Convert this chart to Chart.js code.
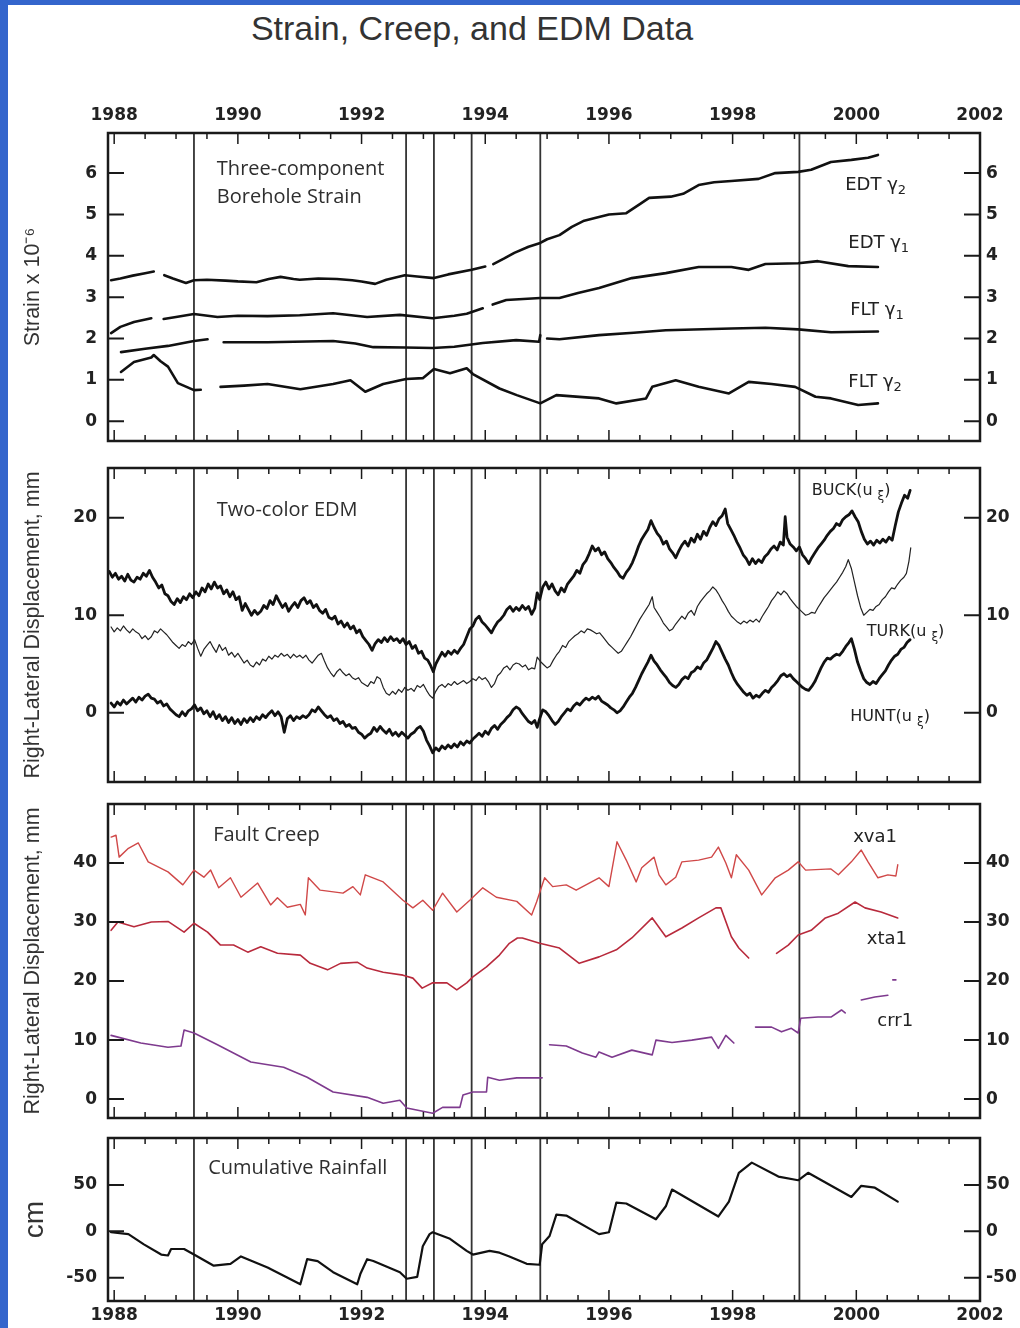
<!DOCTYPE html>
<html>
<head>
<meta charset="utf-8">
<title>Strain, Creep, and EDM Data</title>
<script src="https://cdn.jsdelivr.net/npm/chart.js@4.4.1/dist/chart.umd.min.js"></script>
<style>
  html, body { margin: 0; padding: 0; }
  body { width: 1020px; height: 1328px; background: #3465cc; position: relative; overflow: hidden; }
  #sheet { position: absolute; left: 8px; top: 5px; right: 0; bottom: 0; background: #fff; }
  h1 { position: absolute; left: 0; width: 944px; top: 11px; margin: 0; text-align: center;
       font: normal 34px/34px "Liberation Sans", Arial, sans-serif; color: #333; }
  canvas { position: absolute; left: 0; }
</style>
</head>
<body>
<div id="sheet"></div>
<h1>Strain, Creep, and EDM Data</h1>
<canvas id="strain" width="1020" height="380" style="top:80px"></canvas>
<canvas id="edm" width="1020" height="340" style="top:460px"></canvas>
<canvas id="creep" width="1020" height="330" style="top:800px"></canvas>
<canvas id="rain" width="1020" height="198" style="top:1130px"></canvas>
<script>
/* global Chart */

// axis ticks
const yearTicks = [1988, 1990, 1992, 1994, 1996, 1998, 2000, 2002];
const strainTicks = [0, 1, 2, 3, 4, 5, 6];
const edmTicks = [0, 10, 20];
const creepTicks = [0, 10, 20, 30, 40];
const rainTicks = [-50, 0, 50];

// earthquake marker lines (decimal year)
const quakeYears = [1989.29, 1992.72, 1993.17, 1993.78, 1994.89, 1999.08];

// borehole strain, x 10^-6  [year, value], null = gap
const edtGamma2 = [[1987.95,3.41],[1988.1,3.45],[1988.3,3.52],[1988.5,3.58],[1988.64,3.62],[1988.72,null],[1988.81,3.53],[1988.95,3.45],[1989.16,3.34],[1989.29,3.41],[1989.5,3.42],[1989.8,3.40],[1990.0,3.38],[1990.3,3.36],[1990.5,3.44],[1990.69,3.49],[1990.9,3.44],[1991.0,3.42],[1991.3,3.45],[1991.6,3.44],[1991.85,3.41],[1992.0,3.38],[1992.22,3.32],[1992.4,3.42],[1992.7,3.53],[1992.9,3.50],[1993.17,3.46],[1993.4,3.55],[1993.78,3.66],[1994.0,3.74],[1994.06,null],[1994.13,3.80],[1994.3,3.93],[1994.47,4.07],[1994.7,4.22],[1994.89,4.31],[1995.0,4.40],[1995.2,4.50],[1995.4,4.70],[1995.6,4.85],[1995.79,4.92],[1996.0,5.0],[1996.28,5.03],[1996.5,5.25],[1996.65,5.40],[1997.0,5.43],[1997.2,5.50],[1997.45,5.71],[1997.7,5.78],[1997.98,5.81],[1998.42,5.86],[1998.69,6.0],[1999.06,6.03],[1999.27,6.08],[1999.59,6.27],[1999.92,6.32],[2000.19,6.37],[2000.35,6.44]];
const edtGamma1 = [[1987.95,2.13],[1988.1,2.28],[1988.32,2.40],[1988.6,2.49],[1988.68,null],[1988.8,2.47],[1989.0,2.52],[1989.29,2.59],[1989.67,2.52],[1990.0,2.55],[1990.48,2.54],[1991.0,2.56],[1991.54,2.61],[1992.09,2.52],[1992.62,2.57],[1993.15,2.49],[1993.5,2.55],[1993.7,2.60],[1993.96,2.73],[1994.04,null],[1994.12,2.82],[1994.34,2.93],[1994.89,2.98],[1995.2,2.98],[1995.5,3.10],[1995.84,3.22],[1996.37,3.46],[1996.92,3.58],[1997.45,3.73],[1997.98,3.73],[1998.26,3.66],[1998.53,3.80],[1999.06,3.82],[1999.38,3.87],[1999.87,3.75],[2000.35,3.73]];
const fltGamma1 = [[1988.11,1.67],[1988.5,1.75],[1988.87,1.82],[1989.29,1.94],[1989.51,1.98],[1989.6,null],[1989.77,1.91],[1990.48,1.91],[1991.54,1.94],[1991.9,1.88],[1992.19,1.79],[1992.7,1.78],[1993.15,1.77],[1993.5,1.80],[1993.96,1.89],[1994.5,1.96],[1994.87,1.92],[1994.89,2.08],[1994.93,null],[1995.0,2.0],[1995.2,1.98],[1995.84,2.08],[1996.4,2.14],[1996.92,2.20],[1997.98,2.24],[1998.53,2.26],[1999.06,2.22],[1999.59,2.15],[2000.35,2.17]];
const fltGamma2 = [[1988.11,1.19],[1988.32,1.43],[1988.6,1.54],[1988.64,1.60],[1988.75,1.45],[1988.87,1.32],[1989.03,0.92],[1989.29,0.75],[1989.4,0.76],[1989.5,null],[1989.72,0.83],[1990.1,0.86],[1990.48,0.90],[1991.01,0.77],[1991.54,0.90],[1991.82,0.99],[1992.06,0.71],[1992.35,0.90],[1992.72,1.02],[1992.99,1.04],[1993.17,1.26],[1993.43,1.16],[1993.70,1.28],[1993.8,1.14],[1994.23,0.79],[1994.51,0.63],[1994.89,0.43],[1995.15,0.63],[1995.84,0.55],[1996.12,0.43],[1996.6,0.55],[1996.7,0.83],[1997.08,0.99],[1997.45,0.83],[1997.94,0.67],[1998.26,0.95],[1998.63,0.90],[1999.01,0.83],[1999.34,0.59],[1999.59,0.55],[2000.03,0.39],[2000.35,0.43]];

// two-color EDM, mm
const buck = [[1987.92,14.5],[1987.97,13.9],[1988.02,14.3],[1988.07,13.7],[1988.12,14.0],[1988.17,13.5],[1988.22,14.2],[1988.27,13.6],[1988.32,13.4],[1988.37,13.9],[1988.42,13.7],[1988.47,14.3],[1988.52,14.0],[1988.57,14.6],[1988.62,13.9],[1988.67,13.4],[1988.72,12.8],[1988.77,13.1],[1988.82,12.2],[1988.87,12.0],[1988.92,11.4],[1988.97,11.1],[1989.02,11.7],[1989.07,11.3],[1989.12,11.9],[1989.17,11.6],[1989.22,12.2],[1989.27,11.8],[1989.32,12.4],[1989.37,12.0],[1989.42,12.8],[1989.47,12.4],[1989.52,13.2],[1989.57,12.7],[1989.62,13.4],[1989.67,12.8],[1989.72,13.0],[1989.77,12.2],[1989.82,12.6],[1989.87,11.9],[1989.92,12.4],[1989.97,11.6],[1990.02,11.9],[1990.07,10.5],[1990.12,11.2],[1990.17,10.6],[1990.22,10.0],[1990.27,10.5],[1990.32,10.1],[1990.37,10.4],[1990.42,11.0],[1990.47,10.7],[1990.52,11.5],[1990.57,11.1],[1990.62,12.0],[1990.67,11.4],[1990.72,10.8],[1990.77,11.2],[1990.82,10.4],[1990.87,10.9],[1990.92,11.3],[1990.97,10.8],[1991.02,11.5],[1991.07,11.8],[1991.12,11.2],[1991.17,11.5],[1991.22,10.8],[1991.27,11.1],[1991.32,10.5],[1991.37,10.2],[1991.42,10.6],[1991.47,9.8],[1991.52,9.6],[1991.57,9.9],[1991.62,9.1],[1991.67,9.4],[1991.72,8.8],[1991.77,9.2],[1991.82,8.6],[1991.87,8.9],[1991.92,8.2],[1991.97,8.5],[1992.02,7.8],[1992.07,7.4],[1992.12,7.0],[1992.17,6.4],[1992.22,7.1],[1992.27,7.5],[1992.32,7.2],[1992.37,7.7],[1992.42,7.3],[1992.47,7.8],[1992.52,7.4],[1992.57,7.6],[1992.62,7.2],[1992.67,7.6],[1992.72,7.0],[1992.77,7.3],[1992.82,6.6],[1992.87,6.9],[1992.92,6.1],[1992.97,6.3],[1993.02,5.6],[1993.07,5.4],[1993.12,4.8],[1993.16,4.2],[1993.2,5.0],[1993.25,5.6],[1993.3,6.2],[1993.35,5.8],[1993.4,6.3],[1993.45,6.0],[1993.5,6.4],[1993.55,6.1],[1993.6,6.6],[1993.65,7.0],[1993.7,7.8],[1993.75,8.6],[1993.8,8.9],[1993.85,9.6],[1993.9,9.9],[1993.95,9.3],[1994.0,9.0],[1994.05,8.6],[1994.1,8.2],[1994.15,8.8],[1994.2,9.3],[1994.25,9.6],[1994.3,10.0],[1994.35,10.6],[1994.4,10.9],[1994.45,10.4],[1994.5,10.8],[1994.55,10.5],[1994.6,11.0],[1994.65,10.6],[1994.7,10.9],[1994.75,10.1],[1994.8,10.7],[1994.84,12.3],[1994.88,11.6],[1994.93,12.9],[1994.98,13.4],[1995.03,12.7],[1995.08,13.2],[1995.13,12.5],[1995.18,12.1],[1995.23,12.8],[1995.28,12.4],[1995.33,13.2],[1995.38,13.6],[1995.43,14.0],[1995.48,14.6],[1995.53,14.3],[1995.58,15.2],[1995.63,15.6],[1995.68,16.3],[1995.73,17.1],[1995.78,16.6],[1995.83,16.9],[1995.88,16.2],[1995.93,16.5],[1995.98,15.8],[1996.03,15.4],[1996.08,14.9],[1996.13,14.5],[1996.18,14.0],[1996.23,13.8],[1996.28,14.4],[1996.33,14.8],[1996.38,15.4],[1996.43,16.2],[1996.48,17.1],[1996.53,17.8],[1996.58,18.3],[1996.63,18.8],[1996.68,19.7],[1996.73,19.0],[1996.78,18.4],[1996.83,18.0],[1996.88,17.3],[1996.93,17.6],[1996.98,16.8],[1997.03,16.4],[1997.08,15.9],[1997.13,16.6],[1997.18,17.2],[1997.23,17.6],[1997.28,17.1],[1997.33,17.9],[1997.38,17.5],[1997.43,18.3],[1997.48,17.8],[1997.53,18.6],[1997.58,18.2],[1997.63,19.0],[1997.68,19.6],[1997.73,19.2],[1997.78,19.9],[1997.83,20.2],[1997.88,20.9],[1997.92,19.4],[1997.97,18.8],[1998.02,18.2],[1998.07,17.5],[1998.12,16.9],[1998.17,16.2],[1998.22,15.8],[1998.27,15.2],[1998.32,15.8],[1998.37,15.3],[1998.42,15.7],[1998.47,15.4],[1998.52,16.0],[1998.57,16.3],[1998.62,16.8],[1998.67,17.1],[1998.72,16.7],[1998.77,17.5],[1998.82,17.2],[1998.85,20.1],[1998.88,18.0],[1998.93,17.3],[1998.98,17.0],[1999.03,16.6],[1999.08,17.0],[1999.13,16.2],[1999.18,15.8],[1999.23,15.3],[1999.28,15.9],[1999.33,16.4],[1999.38,16.9],[1999.43,17.3],[1999.48,17.7],[1999.53,18.2],[1999.58,18.6],[1999.63,18.9],[1999.68,19.4],[1999.73,19.2],[1999.78,19.8],[1999.83,20.1],[1999.88,20.3],[1999.93,20.7],[1999.98,20.1],[2000.03,19.6],[2000.08,18.6],[2000.13,17.8],[2000.18,17.3],[2000.23,17.6],[2000.28,17.2],[2000.33,17.7],[2000.38,17.4],[2000.43,17.8],[2000.48,17.5],[2000.53,18.0],[2000.58,17.7],[2000.63,19.2],[2000.68,20.6],[2000.73,21.5],[2000.78,22.3],[2000.83,22.0],[2000.87,22.8]];
const turk = [[1987.95,8.8],[1988.0,8.3],[1988.05,8.7],[1988.1,8.4],[1988.15,8.9],[1988.2,8.5],[1988.25,8.2],[1988.3,8.6],[1988.35,8.3],[1988.4,8.1],[1988.45,7.6],[1988.5,7.9],[1988.55,7.5],[1988.6,7.8],[1988.65,8.4],[1988.7,8.2],[1988.75,8.6],[1988.8,8.3],[1988.85,8.0],[1988.9,7.6],[1988.95,7.2],[1989.0,6.9],[1989.05,6.6],[1989.1,7.0],[1989.15,6.8],[1989.2,7.3],[1989.25,7.0],[1989.3,7.5],[1989.35,6.6],[1989.4,5.8],[1989.45,6.5],[1989.5,6.9],[1989.55,7.3],[1989.6,6.7],[1989.65,6.2],[1989.7,7.0],[1989.75,6.4],[1989.8,6.7],[1989.85,5.9],[1989.9,6.2],[1989.95,5.7],[1990.0,6.1],[1990.05,5.6],[1990.1,5.1],[1990.15,5.4],[1990.2,4.9],[1990.25,4.7],[1990.3,5.2],[1990.35,4.9],[1990.4,5.5],[1990.45,5.3],[1990.5,5.8],[1990.55,5.5],[1990.6,5.9],[1990.65,5.7],[1990.7,6.1],[1990.75,5.8],[1990.8,6.0],[1990.85,5.6],[1990.9,6.0],[1990.95,5.7],[1991.0,5.9],[1991.05,5.6],[1991.1,5.9],[1991.15,5.4],[1991.2,5.1],[1991.25,5.5],[1991.3,5.9],[1991.35,6.1],[1991.4,5.3],[1991.45,4.6],[1991.5,4.1],[1991.55,3.7],[1991.6,4.2],[1991.65,4.5],[1991.7,4.1],[1991.75,3.8],[1991.8,4.0],[1991.85,3.6],[1991.9,3.4],[1991.95,3.6],[1992.0,3.1],[1992.05,2.9],[1992.1,2.7],[1992.15,3.2],[1992.2,3.0],[1992.25,3.7],[1992.3,3.5],[1992.35,2.6],[1992.4,2.0],[1992.45,1.8],[1992.5,2.2],[1992.55,1.9],[1992.6,2.4],[1992.65,2.1],[1992.7,2.6],[1992.75,2.3],[1992.8,2.5],[1992.85,2.2],[1992.9,2.8],[1992.95,2.6],[1993.0,2.9],[1993.05,2.3],[1993.1,1.8],[1993.15,1.5],[1993.2,2.2],[1993.25,2.7],[1993.3,2.9],[1993.35,2.6],[1993.4,3.0],[1993.45,2.8],[1993.5,3.2],[1993.55,2.9],[1993.6,3.1],[1993.65,3.3],[1993.7,3.0],[1993.75,3.2],[1993.8,3.5],[1993.85,3.3],[1993.9,3.7],[1993.95,3.4],[1994.0,3.6],[1994.05,3.2],[1994.1,2.6],[1994.15,3.0],[1994.2,3.8],[1994.25,4.1],[1994.3,4.6],[1994.35,4.8],[1994.4,4.4],[1994.45,4.9],[1994.5,5.1],[1994.55,5.0],[1994.6,4.7],[1994.65,4.9],[1994.7,4.4],[1994.75,4.6],[1994.8,4.5],[1994.84,5.7],[1994.9,5.2],[1994.95,4.9],[1995.0,4.6],[1995.05,4.8],[1995.1,5.4],[1995.15,5.9],[1995.2,6.3],[1995.25,6.9],[1995.3,6.7],[1995.35,7.3],[1995.4,7.6],[1995.45,7.9],[1995.5,8.1],[1995.55,8.4],[1995.6,8.2],[1995.65,8.6],[1995.7,8.5],[1995.75,8.3],[1995.8,8.1],[1995.85,8.2],[1995.9,7.8],[1995.95,7.4],[1996.0,7.0],[1996.05,6.7],[1996.1,6.4],[1996.15,6.1],[1996.2,6.3],[1996.25,6.8],[1996.3,7.3],[1996.35,7.8],[1996.4,8.4],[1996.45,9.0],[1996.5,9.6],[1996.55,10.1],[1996.6,10.6],[1996.65,11.1],[1996.7,11.9],[1996.73,10.8],[1996.78,10.3],[1996.83,9.8],[1996.88,9.2],[1996.93,8.8],[1996.98,8.4],[1997.03,8.6],[1997.08,9.1],[1997.13,9.5],[1997.18,9.9],[1997.23,9.6],[1997.28,10.2],[1997.33,10.5],[1997.38,10.0],[1997.43,10.9],[1997.48,11.4],[1997.53,11.8],[1997.58,12.2],[1997.63,12.5],[1997.68,12.9],[1997.73,12.6],[1997.78,12.1],[1997.83,11.5],[1997.88,11.0],[1997.93,10.4],[1997.98,9.9],[1998.03,9.6],[1998.08,9.3],[1998.13,9.1],[1998.18,9.4],[1998.23,9.2],[1998.28,9.5],[1998.33,9.3],[1998.38,9.6],[1998.43,9.3],[1998.48,9.9],[1998.53,10.4],[1998.58,10.9],[1998.63,11.5],[1998.68,11.9],[1998.73,12.4],[1998.78,12.1],[1998.83,12.5],[1998.88,12.2],[1998.93,11.7],[1998.98,11.3],[1999.03,10.9],[1999.08,10.6],[1999.13,10.3],[1999.18,10.0],[1999.23,10.1],[1999.28,10.3],[1999.33,10.2],[1999.38,10.8],[1999.43,11.3],[1999.48,11.8],[1999.53,12.2],[1999.58,12.6],[1999.63,13.0],[1999.68,13.4],[1999.73,13.9],[1999.78,14.4],[1999.83,15.0],[1999.87,15.7],[1999.92,14.8],[1999.97,13.4],[2000.02,12.0],[2000.07,10.8],[2000.12,10.0],[2000.17,10.3],[2000.22,10.6],[2000.27,10.5],[2000.32,10.9],[2000.37,11.1],[2000.42,11.6],[2000.47,11.9],[2000.52,12.4],[2000.57,12.8],[2000.62,12.7],[2000.67,13.2],[2000.72,13.6],[2000.77,13.9],[2000.81,14.3],[2000.85,15.5],[2000.88,16.9]];
const hunt = [[1987.95,1.0],[1988.0,0.6],[1988.05,1.1],[1988.1,0.8],[1988.15,1.3],[1988.2,0.9],[1988.25,1.2],[1988.3,1.5],[1988.35,1.1],[1988.4,1.6],[1988.45,1.3],[1988.5,1.7],[1988.55,1.9],[1988.6,1.5],[1988.65,1.4],[1988.7,1.0],[1988.75,1.2],[1988.8,0.7],[1988.85,0.9],[1988.9,0.4],[1988.95,0.1],[1989.0,-0.2],[1989.05,-0.4],[1989.1,0.1],[1989.15,-0.3],[1989.2,0.2],[1989.25,0.4],[1989.3,0.8],[1989.35,0.2],[1989.4,0.5],[1989.45,-0.1],[1989.5,0.2],[1989.55,-0.4],[1989.6,0.1],[1989.65,-0.6],[1989.7,-0.2],[1989.75,-0.8],[1989.8,-0.4],[1989.85,-1.0],[1989.9,-0.5],[1989.95,-1.1],[1990.0,-0.7],[1990.05,-1.2],[1990.1,-0.6],[1990.15,-1.0],[1990.2,-0.5],[1990.25,-0.9],[1990.3,-0.4],[1990.35,-0.7],[1990.4,-0.2],[1990.45,-0.5],[1990.5,-0.1],[1990.55,0.2],[1990.6,-0.3],[1990.65,0.1],[1990.7,-0.4],[1990.75,-2.0],[1990.8,-0.6],[1990.85,-0.3],[1990.9,-0.8],[1990.95,-0.4],[1991.0,-0.6],[1991.05,-0.3],[1991.1,-0.5],[1991.15,-0.2],[1991.2,0.3],[1991.25,0.1],[1991.3,0.6],[1991.35,0.2],[1991.4,-0.2],[1991.45,-0.5],[1991.5,-0.3],[1991.55,-0.8],[1991.6,-0.6],[1991.65,-1.1],[1991.7,-0.9],[1991.75,-1.4],[1991.8,-1.2],[1991.85,-1.6],[1991.9,-1.5],[1991.95,-2.0],[1992.0,-2.2],[1992.05,-2.6],[1992.1,-2.3],[1992.15,-2.1],[1992.2,-1.5],[1992.25,-1.9],[1992.3,-1.4],[1992.35,-1.8],[1992.4,-2.1],[1992.45,-1.7],[1992.5,-2.3],[1992.55,-2.0],[1992.6,-2.4],[1992.65,-2.0],[1992.7,-2.3],[1992.75,-2.6],[1992.8,-2.2],[1992.85,-2.0],[1992.9,-1.6],[1992.95,-1.4],[1993.0,-1.9],[1993.05,-2.8],[1993.1,-3.4],[1993.15,-4.1],[1993.2,-3.6],[1993.25,-3.9],[1993.3,-3.4],[1993.35,-3.7],[1993.4,-3.3],[1993.45,-3.6],[1993.5,-3.2],[1993.55,-3.5],[1993.6,-3.0],[1993.65,-3.3],[1993.7,-2.9],[1993.75,-3.1],[1993.8,-2.7],[1993.85,-2.4],[1993.9,-2.1],[1993.95,-2.4],[1994.0,-1.9],[1994.05,-2.2],[1994.1,-1.6],[1994.15,-1.3],[1994.2,-1.7],[1994.25,-1.2],[1994.3,-0.9],[1994.35,-0.5],[1994.4,-0.2],[1994.45,0.3],[1994.5,0.6],[1994.55,0.4],[1994.6,-0.1],[1994.65,-0.5],[1994.7,-0.9],[1994.75,-1.1],[1994.8,-0.8],[1994.84,-1.5],[1994.88,-0.6],[1994.93,0.3],[1994.98,0.1],[1995.03,-0.3],[1995.08,-0.8],[1995.13,-1.2],[1995.18,-0.9],[1995.23,-0.4],[1995.28,0.0],[1995.33,0.4],[1995.38,0.2],[1995.43,0.7],[1995.48,1.0],[1995.53,0.8],[1995.58,1.2],[1995.63,1.5],[1995.68,1.3],[1995.73,1.6],[1995.78,1.4],[1995.83,1.7],[1995.88,1.2],[1995.93,1.0],[1995.98,0.8],[1996.03,0.5],[1996.08,0.3],[1996.13,0.0],[1996.18,0.2],[1996.23,0.6],[1996.28,1.1],[1996.33,1.6],[1996.38,2.0],[1996.43,2.6],[1996.48,3.3],[1996.53,4.0],[1996.58,4.6],[1996.63,5.2],[1996.68,5.9],[1996.73,5.3],[1996.78,4.9],[1996.83,4.4],[1996.88,4.0],[1996.93,3.6],[1996.98,3.1],[1997.03,2.8],[1997.08,2.6],[1997.13,2.9],[1997.18,3.4],[1997.23,3.7],[1997.28,3.5],[1997.33,4.1],[1997.38,4.3],[1997.43,4.7],[1997.48,4.5],[1997.53,5.1],[1997.58,5.4],[1997.63,6.0],[1997.68,6.6],[1997.73,7.3],[1997.78,6.9],[1997.83,6.2],[1997.88,5.5],[1997.93,4.9],[1997.98,4.1],[1998.03,3.4],[1998.08,2.9],[1998.13,2.5],[1998.18,2.1],[1998.23,1.8],[1998.28,2.0],[1998.33,1.5],[1998.38,1.8],[1998.43,1.6],[1998.48,2.0],[1998.53,2.3],[1998.58,2.1],[1998.63,2.6],[1998.68,2.9],[1998.73,3.3],[1998.78,3.8],[1998.83,4.0],[1998.88,3.7],[1998.93,3.9],[1998.98,3.5],[1999.03,3.2],[1999.08,2.9],[1999.13,2.6],[1999.18,2.4],[1999.23,2.3],[1999.28,2.7],[1999.33,3.2],[1999.38,3.9],[1999.43,4.6],[1999.48,5.2],[1999.53,5.6],[1999.58,5.5],[1999.63,5.8],[1999.68,6.0],[1999.73,5.9],[1999.78,6.3],[1999.83,6.8],[1999.88,7.2],[1999.92,7.6],[1999.97,6.5],[2000.02,5.2],[2000.07,4.3],[2000.12,3.5],[2000.17,3.1],[2000.22,2.9],[2000.27,3.2],[2000.32,3.0],[2000.37,3.5],[2000.42,3.9],[2000.47,4.3],[2000.52,4.9],[2000.57,5.4],[2000.62,5.8],[2000.67,6.0],[2000.72,6.5],[2000.77,6.7],[2000.82,7.2],[2000.87,7.5]];

// fault creep, mm
const xva1 = [[1987.95,44.4],[1988.03,44.7],[1988.08,41.0],[1988.23,42.5],[1988.39,43.4],[1988.55,40.2],[1988.87,38.5],[1989.11,36.3],[1989.29,38.8],[1989.45,37.6],[1989.56,38.8],[1989.69,35.8],[1989.88,37.5],[1990.05,34.2],[1990.32,36.6],[1990.53,32.9],[1990.64,34.1],[1990.80,32.5],[1991.01,33.0],[1991.09,31.2],[1991.14,37.5],[1991.33,35.4],[1991.70,34.9],[1991.86,36.0],[1991.98,34.6],[1992.06,38.0],[1992.35,36.8],[1992.67,33.7],[1992.83,32.4],[1992.99,33.7],[1993.15,32.0],[1993.31,34.9],[1993.54,31.7],[1993.75,33.7],[1993.96,35.8],[1994.18,34.2],[1994.51,33.5],[1994.75,31.2],[1994.83,33.4],[1994.96,37.5],[1995.09,36.0],[1995.31,36.3],[1995.47,35.4],[1995.84,37.5],[1996.0,36.0],[1996.13,43.6],[1996.28,40.5],[1996.44,36.8],[1996.53,39.2],[1996.73,41.0],[1996.81,38.0],[1996.92,36.3],[1997.08,37.6],[1997.18,40.2],[1997.45,40.5],[1997.66,41.0],[1997.77,42.7],[1997.89,40.0],[1997.98,37.5],[1998.06,41.4],[1998.26,38.8],[1998.47,34.6],[1998.69,37.5],[1998.90,38.8],[1999.06,40.2],[1999.18,38.8],[1999.59,39.0],[1999.71,38.0],[1999.92,40.2],[2000.08,42.2],[2000.19,40.2],[2000.35,37.5],[2000.51,38.0],[2000.64,37.8],[2000.67,39.7]];
const xta1 = [[1987.95,28.6],[1988.06,30.0],[1988.32,29.2],[1988.6,30.0],[1988.87,30.1],[1989.13,28.3],[1989.29,29.8],[1989.51,28.3],[1989.72,26.1],[1989.93,26.1],[1990.16,24.9],[1990.37,25.8],[1990.64,24.7],[1991.01,24.4],[1991.17,23.0],[1991.45,21.9],[1991.66,23.0],[1991.93,23.2],[1992.09,22.2],[1992.35,21.5],[1992.67,21.0],[1992.83,20.5],[1992.98,18.8],[1993.15,19.7],[1993.38,19.7],[1993.54,18.5],[1993.70,19.7],[1993.80,20.7],[1994.02,22.4],[1994.23,24.4],[1994.39,26.4],[1994.52,27.3],[1994.60,27.3],[1994.88,26.4],[1995.20,25.6],[1995.52,23.0],[1995.84,24.1],[1996.12,25.3],[1996.37,27.3],[1996.70,30.7],[1996.92,27.5],[1997.18,29.0],[1997.45,30.7],[1997.73,32.4],[1997.81,32.4],[1997.98,27.5],[1998.10,25.6],[1998.26,23.9],[1998.5,null],[1998.71,24.7],[1998.90,26.1],[1999.06,27.8],[1999.27,28.6],[1999.50,30.7],[1999.71,31.5],[1999.98,33.4],[2000.14,32.4],[2000.40,31.7],[2000.67,30.7]];
const crr1 = [[1987.95,10.8],[1988.06,10.5],[1988.43,9.5],[1988.87,8.8],[1989.08,9.0],[1989.13,11.7],[1989.29,11.2],[1989.67,9.2],[1990.21,6.3],[1990.74,5.4],[1991.12,3.7],[1991.54,1.2],[1992.09,0.3],[1992.35,-0.7],[1992.62,-0.2],[1992.73,-1.5],[1993.15,-2.4],[1993.31,-1.4],[1993.59,-1.4],[1993.64,0.7],[1993.80,1.2],[1994.02,1.2],[1994.04,3.7],[1994.23,3.2],[1994.51,3.6],[1994.92,3.6],[1994.98,null],[1995.04,9.2],[1995.31,9.0],[1995.57,7.8],[1995.79,7.1],[1995.84,8.0],[1996.05,7.1],[1996.37,8.3],[1996.70,7.5],[1996.76,10.0],[1997.02,9.6],[1997.34,10.0],[1997.66,10.5],[1997.77,8.6],[1997.89,10.8],[1998.02,9.5],[1998.2,null],[1998.37,12.2],[1998.63,12.2],[1998.79,11.4],[1998.95,12.0],[1999.06,11.2],[1999.10,13.7],[1999.38,13.9],[1999.59,13.9],[1999.76,15.1],[1999.82,14.6],[1999.9,null],[2000.08,16.8],[2000.3,17.3],[2000.51,17.6],[2000.55,null],[2000.59,20.2],[2000.64,20.2]];

// cumulative rainfall, cm
const rainfall = [[1987.95,-1],[1988.23,-3],[1988.48,-14],[1988.76,-25],[1988.87,-26],[1988.92,-19],[1989.13,-19],[1989.29,-25],[1989.61,-37],[1989.88,-35],[1990.05,-27],[1990.48,-39],[1991.01,-57],[1991.12,-30],[1991.29,-32],[1991.54,-44],[1991.93,-57],[1991.98,-46],[1992.09,-30],[1992.19,-32],[1992.62,-44],[1992.73,-51],[1992.9,-49],[1992.99,-16],[1993.10,-3],[1993.15,-1],[1993.43,-8],[1993.70,-21],[1993.80,-25],[1994.07,-21],[1994.23,-23],[1994.39,-27],[1994.67,-35],[1994.88,-36],[1994.92,-14],[1995.04,-5],[1995.15,18],[1995.31,17],[1995.84,-3],[1996.0,-1],[1996.12,31],[1996.28,30],[1996.76,13],[1996.92,27],[1997.02,45],[1997.77,16],[1997.94,32],[1998.10,63],[1998.31,74],[1998.74,59],[1999.06,55],[1999.22,63],[1999.92,37],[2000.08,49],[2000.30,47],[2000.67,32]];

Chart.defaults.font.family = '"DejaVu Sans", sans-serif';
Chart.defaults.color = '#222';

const tickFont = { family: '"DejaVu Sans", sans-serif', size: 17, weight: 'bold' };
const titleFont = { family: '"Liberation Sans", Arial, sans-serif', size: 21.5 };
const panelFont = '20px "Open Sans", sans-serif';

// text written inside the panels, anchored in data units
const panelNotes = {
  strain: [
    { text: 'Three-component', x: 1989.66, y: 6.10, font: panelFont },
    { text: 'Borehole Strain', x: 1989.66, y: 5.42, font: panelFont },
    { text: 'EDT \u03b3', sub: '2', x: 1999.82, y: 5.71 },
    { text: 'EDT \u03b3', sub: '1', x: 1999.87, y: 4.31 },
    { text: 'FLT \u03b3', sub: '1', x: 1999.90, y: 2.69 },
    { text: 'FLT \u03b3', sub: '2', x: 1999.87, y: 0.95 }
  ],
  edm: [
    { text: 'Two-color EDM', x: 1989.66, y: 20.8, font: panelFont },
    { text: 'BUCK(u ', sub: '\u03be', tail: ')', x: 1999.28, y: 22.8, size: 16 },
    { text: 'TURK(u ', sub: '\u03be', tail: ')', x: 2000.17, y: 8.3, size: 16 },
    { text: 'HUNT(u ', sub: '\u03be', tail: ')', x: 1999.90, y: -0.45, size: 16 }
  ],
  creep: [
    { text: 'Fault Creep', x: 1989.60, y: 44.75, font: panelFont },
    { text: 'xva1', x: 1999.95, y: 44.4 },
    { text: 'xta1', x: 2000.17, y: 27.0 },
    { text: 'crr1', x: 2000.34, y: 13.1 }
  ],
  rain: [
    { text: 'Cumulative Rainfall', x: 1989.52, y: 68, font: panelFont }
  ]
};

const framePlugin = {
  id: 'frame',
  beforeDatasetsDraw(chart) {
    const { ctx, chartArea: a, scales: { x } } = chart;
    ctx.save();
    ctx.strokeStyle = '#333';
    ctx.lineWidth = 1.8;
    quakeYears.forEach(yr => {
      const px = x.getPixelForValue(yr);
      ctx.beginPath();
      ctx.moveTo(px, a.top);
      ctx.lineTo(px, a.bottom);
      ctx.stroke();
    });
    ctx.restore();
  },
  afterDraw(chart) {
    const { ctx, chartArea: a, scales: { x, y } } = chart;
    ctx.save();
    ctx.strokeStyle = '#1a1a1a';
    ctx.lineWidth = 1.5;
    // half-year ticks on top and bottom, pointing inward
    for (let yr = 1988; yr <= 2001.5; yr += 0.5) {
      const px = x.getPixelForValue(yr);
      const len = yr % 2 === 0 ? 11 : 6;
      ctx.beginPath();
      ctx.moveTo(px, a.top); ctx.lineTo(px, a.top + len);
      ctx.moveTo(px, a.bottom); ctx.lineTo(px, a.bottom - len);
      ctx.stroke();
    }
    ctx.lineWidth = 2;
    y.ticks.forEach(t => {
      const py = y.getPixelForValue(t.value);
      ctx.beginPath();
      ctx.moveTo(a.left, py); ctx.lineTo(a.left + 16, py);
      ctx.moveTo(a.right, py); ctx.lineTo(a.right - 16, py);
      ctx.stroke();
    });
    ctx.lineWidth = 2.5;
    ctx.strokeRect(a.left, a.top, a.width, a.height);

    // labels
    ctx.textBaseline = 'middle';
    ctx.textAlign = 'left';
    (panelNotes[chart.canvas.id] || []).forEach(n => {
      const px = x.getPixelForValue(n.x);
      const py = y.getPixelForValue(n.y);
      const size = n.size || 18;
      ctx.font = n.font || (size + 'px "DejaVu Sans", sans-serif');
      ctx.fillStyle = n.font ? '#2e2e2e' : '#222';
      ctx.fillText(n.text, px, py);
      let cx = px + ctx.measureText(n.text).width;
      if (n.sub) {
        ctx.font = Math.round(size * 0.72) + 'px "DejaVu Sans", sans-serif';
        ctx.fillText(n.sub, cx, py + 6);
        cx += ctx.measureText(n.sub).width;
      }
      if (n.tail) {
        ctx.font = size + 'px "DejaVu Sans", sans-serif';
        ctx.fillText(n.tail, cx, py);
      }
    });
    ctx.restore();
  }
};

function line(pairs, color, width) {
  return {
    data: pairs.map(p => ({ x: p[0], y: p[1] })),
    borderColor: color,
    borderWidth: width,
    pointRadius: 0,
    tension: 0,
    spanGaps: false,
    borderJoinStyle: 'round',
    borderCapStyle: 'round'
  };
}

function xAxis(position, show, height, padding) {
  return {
    type: 'linear',
    position: position,
    display: show,
    min: 1987.9,
    max: 2002,
    afterBuildTicks: s => { s.ticks = yearTicks.map(v => ({ value: v })); },
    afterFit: s => { s.height = height; s.paddingLeft = 0; s.paddingRight = 0; },
    grid: { display: false, drawTicks: false },
    border: { display: false },
    ticks: { font: tickFont, color: '#222', padding: padding, maxRotation: 0, autoSkip: false, callback: v => String(v) }
  };
}

function yAxes(min, max, ticks, title, titleSize, titlePad) {
  const setTicks = s => { s.ticks = ticks.map(v => ({ value: v })); };
  return {
    y: {
      position: 'left', min, max,
      afterBuildTicks: setTicks,
      afterFit: s => { s.width = 108; s.paddingTop = 0; s.paddingBottom = 0; },
      grid: { display: false, drawTicks: false },
      border: { display: false },
      ticks: { font: tickFont, color: '#222', padding: 11 },
      title: {
        display: true, text: title, color: '#333',
        font: Object.assign({}, titleFont, { size: titleSize }),
        padding: { top: titlePad, bottom: 0 }
      }
    },
    yR: {
      position: 'right', min, max,
      afterBuildTicks: setTicks,
      afterFit: s => { s.width = 40; s.paddingTop = 0; s.paddingBottom = 0; },
      grid: { display: false, drawTicks: false },
      border: { display: false },
      ticks: { font: tickFont, color: '#222', padding: 6 }
    }
  };
}

function makePanel(id, datasets, xCfg, yCfg, padding) {
  const scales = Object.assign({ x: xCfg }, yCfg);
  return new Chart(document.getElementById(id), {
    type: 'line',
    data: { datasets: datasets },
    options: {
      responsive: false,
      animation: false,
      devicePixelRatio: 1,
      layout: { padding: padding },
      scales: scales,
      plugins: { legend: { display: false }, tooltip: { enabled: false } },
      elements: { line: { fill: false } }
    },
    plugins: [framePlugin]
  });
}

makePanel('strain', [
  line(edtGamma2, '#111', 2.6),
  line(edtGamma1, '#111', 2.6),
  line(fltGamma1, '#111', 2.6),
  line(fltGamma2, '#111', 2.6)
], xAxis('top', true, 53, 7), yAxes(-0.48, 6.97, strainTicks, 'Strain x 10\u207b\u2076', 21.5, 20),
{ top: 0, bottom: 19, left: 0, right: 0 });

makePanel('edm', [
  line(buck, '#111', 2.8),
  line(turk, '#222', 1.2),
  line(hunt, '#111', 2.8)
], xAxis('bottom', false, 0, 0), yAxes(-7.1, 25.1, edmTicks, 'Right-Lateral Displacement, mm', 21.5, 20),
{ top: 8, bottom: 18, left: 0, right: 0 });

makePanel('creep', [
  line(xva1, '#d04848', 1.4),
  line(xta1, '#b82a3c', 1.6),
  line(crr1, '#7e3a8e', 1.6)
], xAxis('bottom', false, 0, 0), yAxes(-3.2, 50, creepTicks, 'Right-Lateral Displacement, mm', 21.5, 20),
{ top: 4, bottom: 12, left: 0, right: 0 });

makePanel('rain', [
  line(rainfall, '#111', 2.2)
], xAxis('bottom', true, 27, 4), yAxes(-75, 100.5, rainTicks, 'cm', 28, 18),
{ top: 8, bottom: 0, left: 0, right: 0 });
</script>
</body>
</html>
